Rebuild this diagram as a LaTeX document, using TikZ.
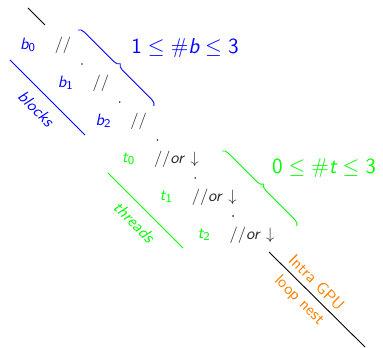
\documentclass[tikz,border=0pt,11pt]{standalone}
\usepackage{amsmath}
\renewcommand{\familydefault}{\sfdefault}
\usetikzlibrary{positioning, calc, decorations.pathreplacing}

\newcommand{\lvar}[2]{$\textit{#1}_{\textup{#2}}$}

\begin{document}
\begin{tikzpicture}[x=0.667pt, y=-0.667pt,
    level/.style={text=black!85},
    bracebar/.style={decorate, decoration={brace, amplitude=4pt}, line width=0.6pt},
    nestline/.style={line width=0.6pt}]
    \useasboundingbox (0,0) rectangle (383,348);

    % Ends of the lines and braces
    \coordinate (N1) at (28,8);    \coordinate (N2) at (45,25);
    \coordinate (N3) at (269,252); \coordinate (N4) at (365,347);
    \coordinate (BL1) at (10,60);  \coordinate (BL2) at (85,135);
    \coordinate (TL1) at (108,173); \coordinate (TL2) at (183,248);
    \coordinate (BB1) at (78,30);  \coordinate (BB2) at (154,106);
    \coordinate (TB1) at (222,151); \coordinate (TB2) at (297,226);

    % 1. Block levels
    \foreach \i in {0,1,2} {
        \node[level] (R\i) at ({63+37.8*\i},{45+38*\i}) {$//$};
        \node[blue, left=5pt of R\i] (B\i) {\lvar{b}{\i}};
    }

    % 2. Thread levels
    \foreach \i/\k in {3/0,4/1,5/2} {
        \node[level] (R\i) at ({63+37.8*\i},{45+38*\i}) {$//$\textit{or} $\downarrow$};
        \node[green, left=5pt of R\i] (T\k) {\lvar{t}{\k}};
    }

    % 3. Dots between the levels
    \foreach \i/\j in {0/1,1/2,2/3,3/4,4/5} {
        \fill[black!85] ($(R\i)!0.5!(R\j)$) circle (0.6pt);
    }

    % 4. Blocks and threads lines
    \draw[nestline, blue] (BL1) -- node[midway, sloped, below=3pt, font=\itshape] (blocks) {blocks} (BL2);
    \draw[nestline, green] (TL1) -- node[midway, sloped, below=3pt, font=\itshape] (threads) {threads} (TL2);

    % 5. Braces with the counts
    \draw[bracebar, blue] (BB1) -- (BB2);
    \node[blue, font=\Large] (bcount) at (185,48) {$\text{1} \le \text{\#}\textit{b} \le \text{3}$};
    \draw[bracebar, green] (TB1) -- (TB2);
    \node[green, font=\Large] (tcount) at (324,168) {$\text{0} \le \text{\#}\textit{t} \le \text{3}$};

    % 6. Loop nest line
    \draw[nestline] (N1) -- (N2);
    \draw[nestline] (N3) -- node[pos=0.41, sloped, above, orange] (intra) {Intra GPU}
        node[pos=0.41, sloped, below, orange] (nest) {loop nest} (N4);

\end{tikzpicture}
\end{document}
